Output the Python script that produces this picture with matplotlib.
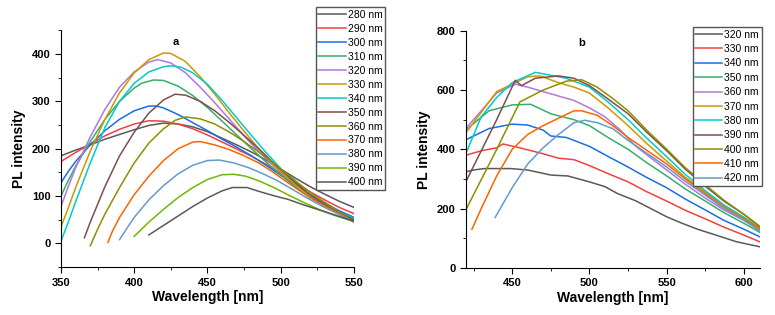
import matplotlib
matplotlib.use('Agg')
import matplotlib.pyplot as plt
from matplotlib.ticker import MultipleLocator

plt.rcParams['font.family'] = ['Liberation Sans', 'DejaVu Sans']

# Origin-like line colours
colors = ['#595959', '#F14040', '#1A6FDF', '#37AD6B', '#B177DE', '#CC9900',
          '#00CBCC', '#7D4E4E', '#8E8E00', '#FB6501', '#6699CC', '#6FB802', '#595959']

# ---- panel a: excitation 280-400 nm ----
labels_a = ['280 nm', '290 nm', '300 nm', '310 nm', '320 nm', '330 nm', '340 nm',
            '350 nm', '360 nm', '370 nm', '380 nm', '390 nm', '400 nm']
x_a = [
    [350, 360, 370, 380, 390, 400, 410, 420, 430, 440, 450, 460, 470, 480, 490, 500, 510, 520, 530, 540, 550],
    [350, 360, 370, 380, 390, 400, 410, 420, 430, 440, 450, 460, 470, 480, 490, 500, 510, 520, 530, 540, 550],
    [350, 355, 360, 370, 380, 390, 400, 410, 415, 420, 430, 440, 450, 460, 470, 480, 490, 500, 510, 520, 530, 540, 550],
    [350, 355, 360, 370, 380, 390, 400, 405, 413, 420, 430, 440, 450, 460, 470, 480, 490, 500, 510, 520, 530, 540, 550],
    [350, 355, 360, 370, 380, 390, 400, 410, 416, 425, 435, 445, 455, 465, 475, 485, 495, 505, 515, 525, 535, 550],
    [350, 355, 360, 370, 380, 390, 400, 410, 420, 425, 435, 445, 455, 465, 475, 485, 495, 505, 515, 525, 535, 550],
    [350, 355, 360, 370, 380, 390, 400, 410, 420, 425, 432, 440, 450, 460, 470, 480, 490, 500, 510, 520, 530, 540, 550],
    [366, 370, 380, 390, 400, 410, 420, 428, 435, 445, 455, 465, 475, 485, 495, 505, 515, 525, 535, 550],
    [370, 375, 380, 390, 400, 410, 420, 428, 435, 445, 455, 465, 475, 485, 495, 505, 515, 525, 535, 550],
    [382, 385, 390, 400, 410, 420, 430, 440, 445, 455, 465, 475, 485, 495, 505, 515, 525, 535, 550],
    [390, 395, 400, 410, 420, 430, 440, 450, 458, 468, 478, 488, 498, 508, 518, 528, 538, 550],
    [400, 410, 420, 430, 440, 450, 460, 468, 476, 486, 496, 506, 516, 526, 536, 550],
    [410, 420, 430, 440, 450, 460, 467, 477, 485, 495, 505, 515, 525, 535, 550],
]
y_a = [
    [185, 197, 208, 220, 230, 240, 249, 254, 252, 246, 236, 222, 208, 193, 176, 157, 138, 120, 104, 89, 76],
    [173, 192, 210, 227, 241, 252, 259, 258, 252, 242, 229, 214, 199, 184, 167, 148, 128, 109, 92, 76, 63],
    [128, 152, 173, 208, 238, 262, 280, 290, 290, 286, 272, 255, 238, 220, 203, 185, 165, 144, 123, 103, 85, 69, 55],
    [100, 133, 163, 215, 262, 300, 328, 338, 345, 344, 332, 312, 287, 258, 229, 200, 172, 145, 119, 97, 79, 64, 52],
    [78, 120, 160, 225, 283, 330, 362, 383, 388, 381, 360, 330, 297, 262, 227, 194, 164, 137, 112, 91, 73, 50],
    [35, 75, 118, 195, 262, 318, 360, 388, 402, 401, 384, 352, 315, 275, 237, 200, 167, 137, 111, 89, 70, 48],
    [5, 45, 88, 170, 245, 300, 338, 362, 373, 375, 372, 360, 336, 302, 265, 228, 192, 158, 128, 103, 82, 66, 53],
    [12, 45, 120, 185, 235, 275, 303, 315, 313, 300, 280, 255, 228, 200, 170, 142, 115, 92, 73, 50],
    [-5, 30, 62, 118, 170, 212, 242, 260, 267, 263, 252, 235, 215, 193, 170, 145, 120, 97, 77, 46],
    [2, 25, 55, 103, 142, 175, 200, 214, 215, 208, 198, 185, 170, 150, 128, 107, 88, 71, 45],
    [8, 32, 55, 92, 122, 147, 165, 175, 176, 170, 160, 147, 132, 114, 96, 79, 64, 46],
    [15, 45, 72, 97, 118, 135, 145, 146, 142, 131, 117, 101, 86, 72, 60, 46],
    [18, 38, 58, 78, 96, 111, 118, 118, 110, 101, 93, 82, 72, 62, 47],
]

# ---- panel b: excitation 320-420 nm ----
labels_b = ['320 nm', '330 nm', '340 nm', '350 nm', '360 nm', '370 nm', '380 nm',
            '390 nm', '400 nm', '410 nm', '420 nm']
x_b = [
    [420, 425, 432, 449, 460, 469, 475, 486, 500, 510, 518, 530, 540, 550, 560, 570, 582, 595, 610],
    [420, 430, 440, 444, 455, 470, 480, 490, 500, 512, 525, 537, 550, 562, 575, 587, 600, 610],
    [420, 435, 450, 460, 470, 475, 485, 500, 512, 525, 537, 550, 562, 575, 587, 600, 610],
    [420, 435, 450, 462, 475, 490, 500, 512, 525, 537, 550, 562, 575, 587, 600, 610],
    [420, 440, 452, 460, 470, 480, 490, 500, 510, 520, 530, 550, 562, 575, 587, 600, 610],
    [420, 440, 460, 468, 480, 490, 500, 512, 525, 537, 550, 562, 575, 587, 600, 610],
    [420, 430, 440, 450, 465, 475, 485, 500, 512, 525, 537, 550, 562, 575, 587, 600, 610],
    [420, 440, 452, 456, 465, 480, 490, 500, 512, 525, 537, 550, 562, 575, 587, 600, 610],
    [420, 440, 455, 470, 485, 495, 505, 515, 525, 537, 550, 562, 575, 587, 600, 610],
    [424, 430, 440, 450, 460, 470, 480, 490, 495, 505, 515, 525, 537, 550, 562, 575, 587, 600, 610],
    [439, 450, 460, 470, 480, 490, 497, 505, 515, 525, 537, 550, 562, 575, 587, 600, 610],
]
y_b = [
    [324, 330, 335, 335, 330, 320, 313, 310, 290, 274, 251, 226, 199, 172, 150, 130, 110, 88, 71],
    [380, 395, 405, 418, 405, 385, 370, 365, 345, 318, 290, 257, 225, 194, 165, 137, 110, 88],
    [432, 470, 485, 482, 465, 445, 440, 410, 376, 340, 305, 270, 232, 195, 160, 130, 105],
    [465, 530, 550, 552, 520, 500, 480, 440, 400, 355, 310, 266, 225, 186, 150, 120],
    [470, 590, 620, 610, 595, 580, 565, 540, 510, 465, 410, 330, 282, 235, 195, 160, 130],
    [455, 595, 645, 648, 625, 610, 590, 540, 480, 420, 360, 305, 255, 210, 170, 135],
    [385, 510, 575, 625, 660, 650, 640, 610, 560, 500, 438, 375, 315, 260, 212, 170, 130],
    [290, 500, 633, 615, 640, 648, 640, 615, 570, 520, 458, 395, 333, 275, 225, 180, 140],
    [195, 400, 560, 600, 630, 635, 610, 572, 530, 465, 400, 338, 280, 228, 180, 140],
    [130, 200, 310, 400, 450, 480, 505, 530, 530, 515, 480, 440, 397, 350, 300, 250, 205, 165, 130],
    [170, 270, 350, 405, 450, 490, 498, 490, 470, 430, 387, 340, 292, 245, 200, 160, 125],
]

fig = plt.figure(figsize=(7.75, 3.15), dpi=100)
ax1 = fig.add_axes([0.0787, 0.152, 0.378, 0.752])
ax2 = fig.add_axes([0.601, 0.150, 0.379, 0.752])


def style_axis(ax):
    ax.spines['top'].set_visible(False)
    ax.spines['right'].set_visible(False)
    ax.tick_params(which='both', direction='out', labelsize=8)
    ax.tick_params(which='major', length=4)
    ax.tick_params(which='minor', length=2)
    for lab in ax.get_xticklabels() + ax.get_yticklabels():
        lab.set_fontweight('bold')
    ax.set_xlabel('Wavelength [nm]', fontsize=10, fontweight='bold', labelpad=2)
    ax.set_ylabel('PL intensity', fontsize=10, fontweight='bold', labelpad=4)


# panel a
for xs, ys, lab, c in zip(x_a, y_a, labels_a, colors):
    ax1.plot(xs, ys, color=c, lw=1.1, label=lab)
ax1.set_xlim(350, 550)
ax1.set_ylim(-50, 450)
ax1.set_xticks([350, 400, 450, 500, 550])
ax1.set_yticks([0, 100, 200, 300, 400])
ax1.xaxis.set_minor_locator(MultipleLocator(25))
ax1.yaxis.set_minor_locator(MultipleLocator(50))
style_axis(ax1)
ax1.text(0.392, 0.97, 'a', transform=ax1.transAxes, fontsize=8, fontweight='bold',
         ha='center', va='top')
ax1.legend(loc='upper left', bbox_to_anchor=(0.870, 1.097), fontsize=7.5,
           frameon=True, fancybox=False, edgecolor='#555555', framealpha=1,
           handlelength=2.6, handletextpad=0.2, labelspacing=0.38,
           borderpad=0.25, borderaxespad=0)

# panel b
for xs, ys, lab, c in zip(x_b, y_b, labels_b, colors):
    ax2.plot(xs, ys, color=c, lw=1.1, label=lab)
ax2.set_xlim(420, 610)
ax2.set_ylim(0, 800)
ax2.set_xticks([450, 500, 550, 600])
ax2.set_yticks([0, 200, 400, 600, 800])
ax2.xaxis.set_minor_locator(MultipleLocator(25))
ax2.yaxis.set_minor_locator(MultipleLocator(100))
style_axis(ax2)
ax2.text(0.395, 0.97, 'b', transform=ax2.transAxes, fontsize=8, fontweight='bold',
         ha='center', va='top')
ax2.legend(loc='upper left', bbox_to_anchor=(0.772, 1.016), fontsize=7.5,
           frameon=True, fancybox=False, edgecolor='#555555', framealpha=1,
           handlelength=2.6, handletextpad=0.2, labelspacing=0.42,
           borderpad=0.25, borderaxespad=0)

fig.savefig('out.png', dpi=100)
